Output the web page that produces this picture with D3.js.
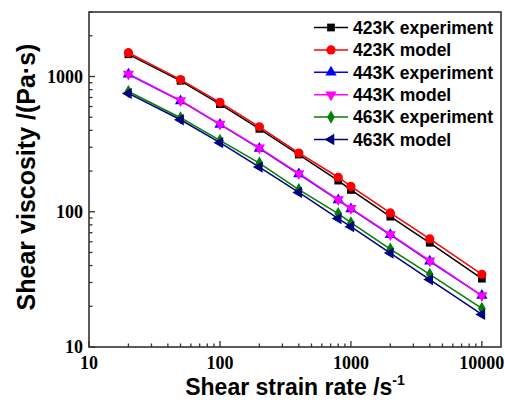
<!DOCTYPE html>
<html>
<head>
<meta charset="utf-8">
<script src="https://cdn.jsdelivr.net/npm/d3@7"></script>
<style>
  body { margin: 0; background: #fff; }
  svg { display: block; }
  .tick-label { font-family: "Liberation Serif", "Times New Roman", serif; font-weight: bold; font-size: 18px; }
  .title { font-family: "Liberation Sans", Arial, sans-serif; font-weight: bold; font-size: 23px; }
  .legend text { font-family: "Liberation Sans", Arial, sans-serif; font-weight: bold; font-size: 17.5px; }
</style>
</head>
<body>
<div id="chart"></div>
<script>
// shear strain rate (1/s)
var rates = [20, 50, 100, 200, 400, 800, 1000, 2000, 4000, 10000];

// shear viscosity (Pa.s)
var exp423 = [1460, 930, 625, 410, 265, 170, 145, 92, 59, 32];
var mod423 = [1500, 950, 645, 425, 272, 180, 154, 98, 63, 34.5];
var exp443 = [1040, 660, 442, 294, 190, 122, 105, 67.5, 43, 24];
var mod443 = [1045, 665, 445, 297, 192, 123, 106, 68, 43.5, 24];
var exp463 = [775, 496, 337, 229, 146, 97, 83, 53, 34.5, 19.3];
var mod463 = [750, 479, 324, 214, 139, 89, 77.5, 49.5, 31.5, 17.4];

var seriesNames = ["423K experiment", "423K model", "443K experiment", "443K model", "463K experiment", "463K model"];
var seriesValues = [exp423, mod423, exp443, mod443, exp463, mod463];

var xTicks = [10, 100, 1000, 10000];
var yTicks = [10, 100, 1000];

var colors = ["#000000", "#ff0000", "#0000ff", "#ff00ff", "#008000", "#000080"];
var shapes = ["square", "circle", "up", "down", "diamond", "left"];

var svgWidth = 505, svgHeight = 400;
var plotLeft = 89, plotRight = 501, plotTop = 12, plotBottom = 347;

var svg = d3.select("#chart").append("svg")
    .attr("width", svgWidth)
    .attr("height", svgHeight);

var xScale = d3.scaleLog().domain([10, 14000]).range([plotLeft, plotRight]);
var yScale = d3.scaleLog().domain([10, 3000]).range([plotBottom, plotTop]);

// minor ticks (1..9 per decade)
function minors(scale) {
    var d = scale.domain(), out = [];
    for (var p = 1; p < 5; p++) {
        for (var k = 1; k < 10; k++) {
            var v = k * Math.pow(10, p);
            if (v >= d[0] && v <= d[1]) out.push(v);
        }
    }
    return out;
}

// Frame
svg.append("rect")
    .attr("x", plotLeft).attr("y", plotTop)
    .attr("width", plotRight - plotLeft).attr("height", plotBottom - plotTop)
    .attr("fill", "none")
    .attr("stroke", "#333")
    .attr("stroke-width", 1.6);

// x axis, ticks pointing inward
var xAxis = svg.append("g").attr("transform", `translate(0, ${plotBottom})`);
xAxis.selectAll("line.minor")
    .data(minors(xScale))
    .enter().append("line")
    .attr("x1", d => xScale(d)).attr("x2", d => xScale(d))
    .attr("y1", 0).attr("y2", d => xTicks.indexOf(d) >= 0 ? -6 : -3.5)
    .attr("stroke", "#333").attr("stroke-width", 1.3);
xAxis.selectAll("text")
    .data(xTicks)
    .enter().append("text")
    .classed("tick-label", true)
    .attr("x", d => xScale(d))
    .attr("y", 22)
    .attr("text-anchor", "middle")
    .text(d => d);

// y axis
var yAxis = svg.append("g").attr("transform", `translate(${plotLeft}, 0)`);
yAxis.selectAll("line.minor")
    .data(minors(yScale))
    .enter().append("line")
    .attr("y1", d => yScale(d)).attr("y2", d => yScale(d))
    .attr("x1", 0).attr("x2", d => yTicks.indexOf(d) >= 0 ? 6 : 3.5)
    .attr("stroke", "#333").attr("stroke-width", 1.3);
yAxis.selectAll("text")
    .data(yTicks)
    .enter().append("text")
    .classed("tick-label", true)
    .attr("x", -6)
    .attr("y", d => yScale(d))
    .attr("dy", "0.34em")
    .attr("text-anchor", "end")
    .text(d => d);

// Axis titles
var xTitle = svg.append("text")
    .classed("title", true)
    .attr("x", (plotLeft + plotRight) / 2)
    .attr("y", 395)
    .attr("text-anchor", "middle");
xTitle.append("tspan").text("Shear strain rate /s");
xTitle.append("tspan")
    .attr("dy", -10)
    .style("font-size", "14px")
    .text("-1");

svg.append("text")
    .classed("title", true)
    .style("font-size", "25px")
    .attr("transform", "translate(35, 177) rotate(-90)")
    .attr("text-anchor", "middle")
    .text("Shear viscosity /(Pa\u00b7s)");

// marker drawing
function marker(sel, shape, color) {
    var sym;
    if (shape === "circle") {
        sel.append("circle").attr("r", 4.6).attr("fill", color);
        return;
    }
    if (shape === "square") sym = d3.symbol().type(d3.symbolSquare).size(60);
    else if (shape === "diamond") sym = d3.symbol().type(d3.symbolDiamond).size(50);
    else sym = d3.symbol().type(d3.symbolTriangle).size(55);
    var p = sel.append("path").attr("d", sym()).attr("fill", color);
    if (shape === "down") p.attr("transform", "rotate(180)");
    if (shape === "left") p.attr("transform", "rotate(-90)");
}

var line = d3.line()
    .x(d => xScale(d[0]))
    .y(d => yScale(d[1]));

seriesValues.forEach(function (vals, i) {
    var pts = rates.map((r, j) => [r, vals[j]]);
    var g = svg.append("g");
    g.append("path")
        .datum(pts)
        .attr("d", line)
        .attr("fill", "none")
        .attr("stroke", colors[i])
        .attr("stroke-width", 1.5);
    g.selectAll("g.pt")
        .data(pts)
        .enter().append("g")
        .attr("transform", d => `translate(${xScale(d[0])}, ${yScale(d[1])})`)
        .each(function () { marker(d3.select(this), shapes[i], colors[i]); });
});

// Legend
var legend = svg.append("g").classed("legend", true);
seriesNames.forEach(function (name, i) {
    var y = 27.5 + i * 22.4;
    var row = legend.append("g");
    row.append("line")
        .attr("x1", 314).attr("x2", 348)
        .attr("y1", y).attr("y2", y)
        .attr("stroke", colors[i]).attr("stroke-width", 1.5);
    var m = row.append("g").attr("transform", `translate(331, ${y})`);
    marker(m, shapes[i], colors[i]);
    row.append("text")
        .attr("x", 353)
        .attr("y", y)
        .attr("dy", "0.36em")
        .text(name);
});
</script>
</body>
</html>
